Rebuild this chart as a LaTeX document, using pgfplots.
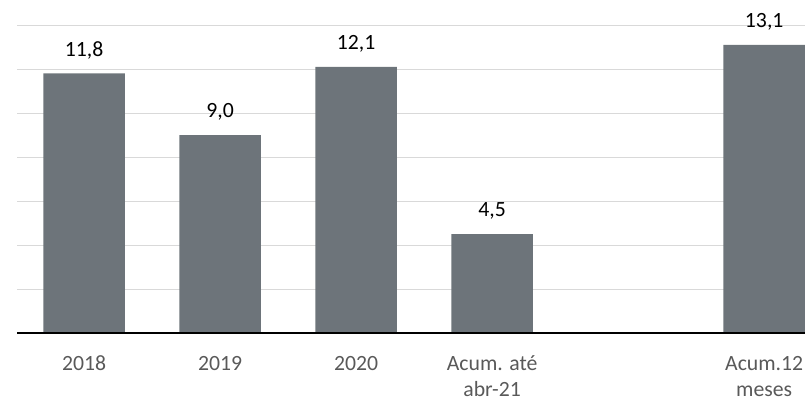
\documentclass[border=0pt]{standalone}
\usepackage{fontspec}
\setmainfont{Carlito}
\usepackage{pgfplots}
\pgfplotsset{compat=1.18}
\definecolor{barc}{RGB}{109,116,122}
\definecolor{gridc}{RGB}{217,217,217}
\definecolor{tickc}{RGB}{89,89,89}
\begin{document}
\begin{tikzpicture}
\begin{axis}[
  name=ax,
  scale only axis,
  width=591pt, height=231pt,
  xmin=-0.493, xmax=5.3,
  ymin=0, ymax=14,
  clip=false,
  axis x line*=bottom, axis y line*=left,
  y axis line style={draw=none},
  x axis line style={black, line width=1.5pt},
  major tick length=0pt,
  ytick={0,2,...,14},
  yticklabels={},
  ymajorgrids,
  grid style={gridc, line width=0.75pt},
  xtick={0,1,2,3,5},
  xticklabels={\strut 2018,\strut 2019,\strut 2020,{\strut Acum. até\\abr-21},{\strut Acum.12\\meses}},
  xticklabel style={align=center, font=\fontsize{16.3}{20}\selectfont, text=tickc, inner sep=0pt, anchor=north, yshift=-13.6pt},
  ybar, bar width=0.6,
  nodes near coords,
  nodes near coords style={font=\fontsize{16.3}{18}\selectfont, text=black, anchor=south, inner sep=0pt, text depth=0pt, yshift=12.8pt,
    /pgf/number format/.cd, fixed, fixed zerofill, precision=1, use comma, assume math mode=true},
]
\addplot[fill=barc, draw=none] coordinates {(0,11.8) (1,9.0) (2,12.1) (3,4.5) (5,13.1)};
\draw[black, line width=1.5pt] (axis cs:-0.493,0) -- (axis cs:5.3,0);
\end{axis}
\pgfresetboundingbox
\path[use as bounding box] ([xshift=-12.75pt, yshift=-51pt]ax.south west) rectangle ([yshift=18.75pt]ax.north east);
\end{tikzpicture}
\end{document}
